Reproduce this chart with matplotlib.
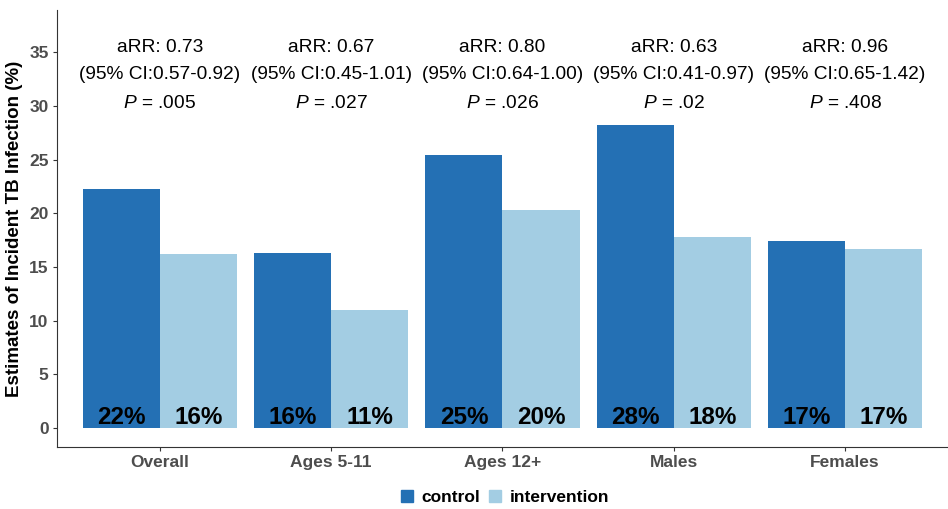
import numpy as np
import matplotlib
matplotlib.use('Agg')
import matplotlib.pyplot as plt
from matplotlib.patches import Patch

plt.rcParams['font.family'] = ['Liberation Sans', 'DejaVu Sans']
plt.rcParams['mathtext.fontset'] = 'custom'
plt.rcParams['mathtext.rm'] = 'Liberation Sans'
plt.rcParams['mathtext.it'] = 'Liberation Sans:italic'

groups = ['Overall', 'Ages 5-11', 'Ages 12+', 'Males', 'Females']
control = [22.3, 16.3, 25.4, 28.2, 17.4]
intervention = [16.2, 11.0, 20.3, 17.8, 16.7]
control_lbl = ['22%', '16%', '25%', '28%', '17%']
intervention_lbl = ['16%', '11%', '20%', '18%', '17%']
arr = ['0.73', '0.67', '0.80', '0.63', '0.96']
ci = ['0.57-0.92', '0.45-1.01', '0.64-1.00', '0.41-0.97', '0.65-1.42']
pvals = ['.005', '.027', '.026', '.02', '.408']

c_ctrl = '#2470b4'
c_int = '#a3cde3'

fig = plt.figure(figsize=(9.48, 5.09), dpi=100)
ax = fig.add_axes([0.060, 0.122, 0.94, 0.858])

x = np.arange(1, len(groups) + 1)
w = 0.45
ax.bar(x - w / 2, control, width=w, color=c_ctrl)
ax.bar(x + w / 2, intervention, width=w, color=c_int)

for i in range(len(groups)):
    ax.text(x[i] - w / 2, -0.1, control_lbl[i], ha='center', va='bottom',
            fontsize=17.5, fontweight='bold', color='black')
    ax.text(x[i] + w / 2, -0.1, intervention_lbl[i], ha='center', va='bottom',
            fontsize=17.5, fontweight='bold', color='black')
    ax.text(x[i], 35.45, 'aRR: ' + arr[i], ha='center', va='center', fontsize=13.8)
    ax.text(x[i], 32.95, '(95% CI:' + ci[i] + ')', ha='center', va='center', fontsize=13.8)
    ax.text(x[i], 30.25, r'$\it{P}$ = ' + pvals[i], ha='center', va='center', fontsize=13.8)

ax.set_xlim(0.4, 5.6)
ax.set_ylim(-1.75, 38.9)
ax.set_yticks([0, 5, 10, 15, 20, 25, 30, 35])
ax.set_xticks(x)
ax.set_xticklabels(groups)
for lab in ax.get_xticklabels() + ax.get_yticklabels():
    lab.set_fontweight('bold')
    lab.set_color('#4d4d4d')
    lab.set_fontsize(12.5)
ax.tick_params(axis='both', length=3, color='#333333', width=0.8, pad=3)
ax.spines['top'].set_visible(False)
ax.spines['right'].set_visible(False)
ax.spines['left'].set_color('#333333')
ax.spines['bottom'].set_color('#333333')
ax.set_ylabel('Estimates of Incident TB Infection (%)', fontsize=13.5, fontweight='bold',
              labelpad=4)

handles = [Patch(color=c_ctrl, label='control'), Patch(color=c_int, label='intervention')]
fig.legend(handles=handles, loc='center', bbox_to_anchor=(0.533, 0.023), ncol=2,
           frameon=False, prop={'weight': 'bold', 'size': 12.5},
           handlelength=0.7, handleheight=0.7, handletextpad=0.5, columnspacing=0.5)

plt.savefig('out.png', dpi=100)
